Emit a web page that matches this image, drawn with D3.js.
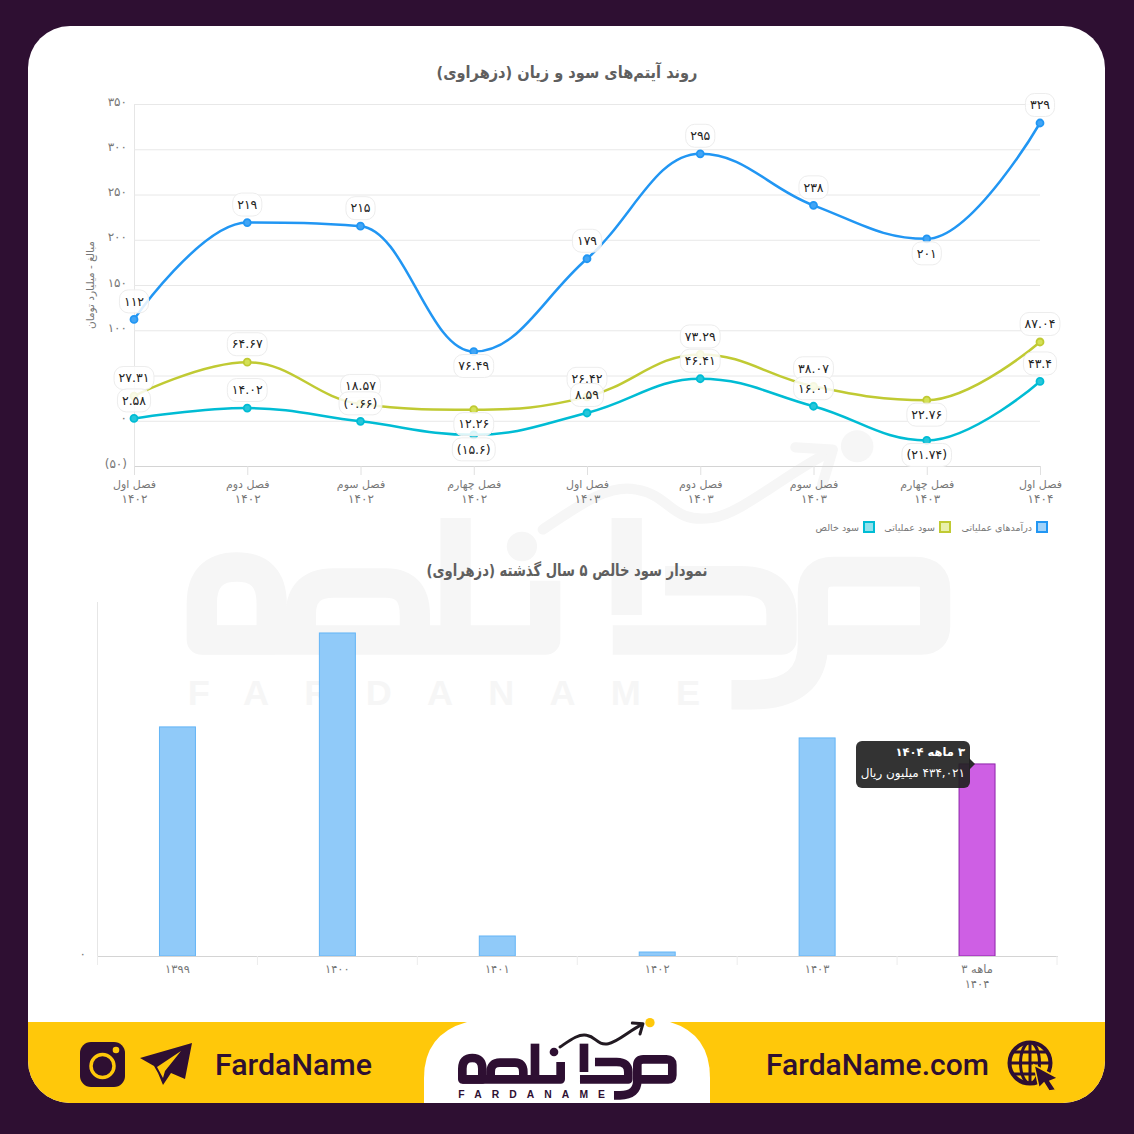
<!DOCTYPE html>
<html><head><meta charset="utf-8">
<script src="https://cdn.jsdelivr.net/npm/d3@7"></script>
<style>
html,body{margin:0;padding:0;background:#2e0f32}
svg{display:block}
text{font-family:"DejaVu Sans",sans-serif}
</style></head><body>
<svg id="c" width="1134" height="1134"></svg>
<script>
// ---------- data ----------
const quarterNames = ["فصل اول","فصل دوم","فصل سوم","فصل چهارم","فصل اول","فصل دوم","فصل سوم","فصل چهارم","فصل اول"];
const quarterYears = ["1402","1402","1402","1402","1403","1403","1403","1403","1404"];
const revenue = [112,219,215,76.49,179,295,238,201,329];
const opProfit = [27.31,64.67,18.57,12.26,26.42,73.29,38.07,22.76,87.04];
const netProfit = [2.58,14.02,-0.66,-15.6,8.59,46.41,16.01,-21.74,43.4];
const revenueLabels = ["112","219","215","76.49","179","295","238","201","329"];
const opLabels = ["27.31","64.67","18.57","12.26","26.42","73.29","38.07","22.76","87.04"];
const netLabels = ["2.58","14.02","(0.66)","(15.6)","8.59","46.41","16.01","(21.74)","43.4"];
const labelsBelow = [3,7];
const seriesNames = ["درآمدهای عملیاتی","سود عملیاتی","سود خالص"];
const yTicks = [-50,0,50,100,150,200,250,300,350];
const hiddenTickLabels = [50];
const barYears = ["1399","1400","1401","1402","1403","3 ماهه|1404"];
const barValues = [517700,730000,45200,9000,492800,434021];
const title1 = "روند آیتم‌های سود و زیان (دزهراوی)";
const title2 = "نمودار سود خالص ۵ سال گذشته (دزهراوی)";
const axisTitle = "مبالغ - میلیارد تومان";
const tooltipLines = ["۳ ماهه ۱۴۰۴","۴۳۴,۰۲۱ میلیون ریال"];

// ---------- helpers ----------
const fa = s => String(s).replace(/\d/g,d=>"۰۱۲۳۴۵۶۷۸۹"[d]);
const DARK="#2e0f32", YEL="#ffc80a";
const svg = d3.select("#c");
const defs = svg.append("defs");
defs.append("clipPath").attr("id","card").append("rect")
  .attr("x",28).attr("y",26).attr("width",1077).attr("height",1077).attr("rx",42);

svg.append("rect").attr("width",1134).attr("height",1134).attr("fill",DARK);
const card = svg.append("g").attr("clip-path","url(#card)");
card.append("rect").attr("x",28).attr("y",26).attr("width",1077).attr("height",1077).attr("fill","#fff");

// logo drawn in its own unit space
function logo(g,main,accent,line){
  const s=g.append("g").attr("fill","none").attr("stroke",main).attr("stroke-width",26)
    .attr("stroke-linejoin","round").attr("stroke-linecap","butt");
  ["M127,170 Q127,138 157,138 Q187,138 187,170 V202 H127 Z",
   "M212,202 V180 Q212,152 240,152 H285 Q310,152 310,180 V202",
   "M127,202 H422 V150","M345,95 V202",
   "M492,95 V180","M525,150 H590 Q625,150 625,180 V202 H480",
   "M650,202 H745 Q757,202 757,190 V158 Q757,142 740,142 H670 Q652,142 652,160 V205 Q652,250 600,250 H582"
  ].forEach(d=>s.append("path").attr("d",d));
  g.append("circle").attr("cx",402).attr("cy",120).attr("r",13).attr("fill",main);
  const a=g.append("g").attr("fill","none").attr("stroke",line).attr("stroke-width",9).attr("stroke-linecap","round").attr("stroke-linejoin","round");
  a.append("path").attr("d","M420,105 C450,85 475,65 500,70 C530,75 530,100 565,95 C590,92 630,55 665,38");
  a.append("path").attr("d","M637,33 L669,35 L660,66");
  g.append("circle").attr("cx",690).attr("cy",32).attr("r",14).attr("fill",accent);
  g.append("text").attr("x",115).attr("y",259).attr("font-size",31).attr("font-weight",700)
    .attr("fill",main).attr("textLength",440).attr("lengthAdjust","spacing")
    .style("font-family","'Liberation Sans',sans-serif").text("FARDANAME");
}
// watermark
logo(card.append("g").attr("transform","translate(54,409.7) scale(1.164,1.14)"),"#f6f6f6","#f6f6f6","#f6f6f6");

// ---------- chart 1 ----------
const x = d3.scalePoint().domain(d3.range(quarterNames.length)).range([134,1040]);
const y = d3.scaleLinear().domain([-50,350]).range([466,104]);
const GRAY="#777";
const fmtTick = v => hiddenTickLabels.includes(v) ? "" : (v<0 ? "("+fa(-v)+")" : fa(v));

const yAxis = card.append("g").attr("transform","translate(134,0)")
  .call(d3.axisLeft(y).tickValues(yTicks).tickSize(-906).tickPadding(7).tickFormat(fmtTick));
yAxis.select(".domain").attr("stroke","#e6e6e6");
yAxis.selectAll(".tick line").attr("stroke","#e8e8e8");
yAxis.selectAll(".tick text").attr("fill",GRAY).attr("font-size",12).attr("dy","0.1em");

const xAxis = card.append("g").attr("transform","translate(0,466)")
  .call(d3.axisBottom(x).tickSize(9).tickPadding(0).tickFormat(()=>""));
xAxis.select(".domain").attr("stroke","#d4d4d4").attr("d","M134,0.5H1040");
xAxis.selectAll(".tick line").attr("stroke","#e0e0e0");
xAxis.selectAll(".tick text").each(function(d,i){
  const t=d3.select(this).attr("fill",GRAY).attr("font-size",11).attr("dy",null).attr("y",0);
  t.append("tspan").attr("x",0).attr("y",22).style("direction","rtl").text(quarterNames[i]);
  t.append("tspan").attr("x",0).attr("y",37).attr("font-size",12).text(fa(quarterYears[i]));
});

card.append("text").attr("transform","translate(94,285) rotate(-90)")
  .attr("text-anchor","middle").attr("fill",GRAY).attr("font-size",10.5)
  .style("direction","rtl").text(axisTitle);

// spline with the tangent rule of the original charting library
function Spline(ctx){this._c=ctx;}
Spline.prototype={
  areaStart(){},areaEnd(){},
  lineStart(){this._p=[];},
  point(px,py){this._p.push([+px,+py]);},
  lineEnd(){
    const p=this._p,n=p.length,k=1.5,d=k+1,L=[],R=[];
    for(let i=0;i<n;i++){
      if(i===0||i===n-1){L[i]=p[i].slice();R[i]=p[i].slice();continue;}
      const [a,b]=p[i],[la,lb]=p[i-1],[na,nb]=p[i+1];
      const lx=(k*a+la)/d; let ly=(k*b+lb)/d;
      const rx=(k*a+na)/d; let ry=(k*b+nb)/d;
      const c=((ry-ly)*(rx-a))/(rx-lx)+b-ry; ly+=c; ry+=c;
      if(ly>lb&&ly>b){ly=Math.max(lb,b);ry=2*b-ly;}
      else if(ly<lb&&ly<b){ly=Math.min(lb,b);ry=2*b-ly;}
      if(ry>b&&ry>nb){ry=Math.max(b,nb);ly=2*b-ry;}
      else if(ry<b&&ry<nb){ry=Math.min(b,nb);ly=2*b-ry;}
      L[i]=[lx,ly];R[i]=[rx,ry];
    }
    this._c.moveTo(p[0][0],p[0][1]);
    for(let i=1;i<n;i++)this._c.bezierCurveTo(R[i-1][0],R[i-1][1],L[i][0],L[i][1],p[i][0],p[i][1]);
  }
};
const spline = c => new Spline(c);
const lineGen = d3.line().x((d,i)=>x(i)).y(d=>y(d)).curve(spline);

const series=[
 {v:revenue,l:revenueLabels,c:"#2196f3",f:"#42a5f5"},
 {v:opProfit,l:opLabels,c:"#c0ca33",f:"#d4e157"},
 {v:netProfit,l:netLabels,c:"#00bcd4",f:"#26c6da"}
];
series.forEach(s=>{
  card.append("path").datum(s.v).attr("d",lineGen).attr("fill","none").attr("stroke",s.c).attr("stroke-width",2.5);
  card.append("g").selectAll("circle").data(s.v).join("circle")
    .attr("cx",(d,i)=>x(i)).attr("cy",d=>y(d)).attr("r",3.5)
    .attr("fill",s.f).attr("stroke",s.c).attr("stroke-width",1.8);
});
series.forEach(s=>{
  const g=card.append("g").selectAll("g").data(s.v).join("g")
    .attr("transform",(d,i)=>`translate(${x(i)},${y(d)+(labelsBelow.includes(i)?14.5:-18)})`);
  const rects=g.append("rect").attr("fill","#fff").attr("fill-opacity",0.85).attr("stroke","#ededed").attr("stroke-width",1);
  const texts=g.append("text").attr("text-anchor","middle").attr("dy","0.34em").attr("font-size",12.5).attr("fill","#222")
    .text((d,i)=>fa(s.l[i]));
  texts.each(function(d,i){
    const w=this.getComputedTextLength()+9;
    d3.select(rects.nodes()[i]).attr("x",-w/2).attr("y",-11.5).attr("width",w).attr("height",23).attr("rx",9);
  });
});

// legend
const legendRight=[1048,951,875];
seriesNames.forEach((n,i)=>{
  const s=series[i];
  card.append("rect").attr("x",legendRight[i]-11).attr("y",522).attr("width",10).attr("height",10)
    .attr("fill",s.f).attr("fill-opacity",0.5).attr("stroke",s.c).attr("stroke-width",2);
  card.append("text").attr("x",legendRight[i]-16).attr("y",531).attr("fill",GRAY).attr("font-size",9.5)
    .style("direction","rtl").text(n);
});

// titles
[[title1,78,261],[title2,576,281]].forEach(([t,yy,len])=>{
  card.append("text").attr("x",567).attr("y",yy).attr("text-anchor","middle")
    .attr("font-size",16.5).attr("font-weight",700).attr("fill","#5f5f5f").style("direction","rtl")
    .attr("textLength",len).attr("lengthAdjust","spacingAndGlyphs").text(t);
});

// ---------- chart 2 ----------
const bx = d3.scaleBand().domain(barYears).range([97.5,1057]).paddingInner(0.775).paddingOuter(0.3875);
const by = d3.scaleLinear().domain([0,800000]).range([956,602]);
card.append("line").attr("x1",97.5).attr("x2",97.5).attr("y1",602).attr("y2",956).attr("stroke","#e6e6e6");
card.append("g").selectAll("rect").data(barValues).join("rect")
  .attr("x",(d,i)=>bx(barYears[i])).attr("width",bx.bandwidth())
  .attr("y",d=>by(d)).attr("height",d=>956-by(d))
  .attr("fill",(d,i)=>i===5?"#ce5fe4":"#90caf9")
  .attr("stroke",(d,i)=>i===5?"#8e24aa":"#64b5f6").attr("stroke-width",1);
const bAxis = card.append("g").attr("transform","translate(0,956)")
  .call(d3.axisBottom(bx).tickSize(0).tickPadding(0).tickFormat(()=>""));
bAxis.select(".domain").attr("stroke","#d4d4d4").attr("d","M97,0.5H1058");
bAxis.selectAll(".tick text").each(function(d){
  const t=d3.select(this).attr("fill",GRAY).attr("font-size",11.5).attr("dy",null);
  d.split("|").forEach((p,i)=>t.append("tspan").attr("x",0).attr("y",17+i*15).style("direction","rtl").text(fa(p)));
});
bAxis.append("g").selectAll("line").data(d3.range(barYears.length+1)).join("line")
  .attr("x1",i=>97.5+i*bx.step()).attr("x2",i=>97.5+i*bx.step()).attr("y1",0).attr("y2",9).attr("stroke","#ececec");
card.append("text").attr("x",86).attr("y",by(0)+2).attr("text-anchor","end").attr("font-size",12).attr("fill",GRAY).text(fa(0));

// tooltip
const tip=card.append("g");
tip.append("path").attr("d","M969,758 L975,764 L969,770Z").attr("fill","#2b2b2b");
tip.append("rect").attr("x",856).attr("y",741).attr("width",114).attr("height",47).attr("rx",6).attr("fill","#222").attr("fill-opacity",0.92);
tip.append("text").attr("x",965).attr("y",756).attr("fill","#fff").attr("font-size",11.5).attr("font-weight",700).style("direction","rtl").text(tooltipLines[0]);
tip.append("text").attr("x",965).attr("y",777).attr("fill","#fff").attr("font-size",12).style("direction","rtl").text(tooltipLines[1]);

// ---------- footer ----------
card.append("rect").attr("x",28).attr("y",1022).attr("width",1077).attr("height",81).attr("fill",YEL);
card.append("path").attr("d","M424,1103 V1078 Q424,1034 467,1022 H670 Q710,1034 710,1078 V1103Z").attr("fill","#fff");
logo(card.append("g").attr("transform","translate(420,1012) scale(0.3333)"),DARK,YEL,"#221a22");

// instagram
card.append("rect").attr("x",80).attr("y",1042).attr("width",45).attr("height",45).attr("rx",11).attr("fill",DARK);
card.append("circle").attr("cx",102.5).attr("cy",1066).attr("r",11.5).attr("fill","none").attr("stroke",YEL).attr("stroke-width",3.5);
card.append("circle").attr("cx",116).attr("cy",1050).attr("r",3.3).attr("fill",YEL);
// telegram
card.append("path").attr("d","M192,1043 L140,1058 L154,1066 L158,1073 L163,1085 L171,1073 L185,1079Z").attr("fill",DARK);
card.append("path").attr("d","M181,1051 L157,1067 L163,1078 L165,1071Z").attr("fill",YEL);
// handles
card.append("text").attr("x",215).attr("y",1075).attr("font-size",29.5).attr("font-weight",500).attr("fill",DARK)
  .attr("textLength",157).attr("lengthAdjust","spacingAndGlyphs")
  .style("font-family","Roboto,sans-serif").text("FardaName");
card.append("text").attr("x",766).attr("y",1075).attr("font-size",29.5).attr("font-weight",500).attr("fill",DARK)
  .attr("textLength",223).attr("lengthAdjust","spacingAndGlyphs")
  .style("font-family","Roboto,sans-serif").text("FardaName.com");
// globe
const gl=card.append("g").attr("fill","none").attr("stroke",DARK).attr("stroke-width",3);
gl.append("circle").attr("cx",1030).attr("cy",1063).attr("r",20.5).attr("stroke-width",4);
gl.append("ellipse").attr("cx",1030).attr("cy",1063).attr("rx",9.5).attr("ry",20.5);
gl.append("path").attr("d","M1030,1043 V1083 M1010,1063 H1050 M1013,1052 H1047 M1013,1074 H1047");
card.append("path").attr("d","M1034,1065 L1058,1078 L1050,1081 L1056,1090 L1049,1091 L1044,1083 L1039,1088Z")
  .attr("fill",DARK).attr("stroke",YEL).attr("stroke-width",1.5);
</script>
</body></html>
